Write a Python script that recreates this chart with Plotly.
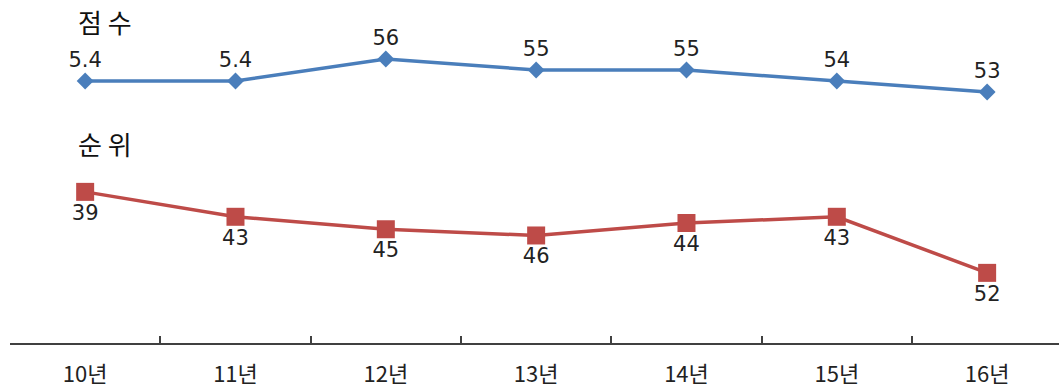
import plotly.graph_objects as go

years = ["10년", "11년", "12년", "13년", "14년", "15년", "16년"]
score = [54, 54, 56, 55, 55, 54, 53]
score_labels = ["5.4", "5.4", "56", "55", "55", "54", "53"]
rank = [39, 43, 45, 46, 44, 43, 52]
rank_labels = ["39", "43", "45", "46", "44", "43", "52"]

blue = "#4a7ebb"
red = "#be4b48"
txt_font = dict(family="DejaVu Sans, Noto Sans", size=21, color="#222")

fig = go.Figure()
fig.add_trace(go.Scatter(
    x=years, y=score, mode="lines+markers+text", text=score_labels,
    textposition="top center", textfont=txt_font,
    line=dict(color=blue, width=3.5),
    marker=dict(symbol="diamond", size=13, color=blue),
    yaxis="y", cliponaxis=False, showlegend=False,
))
fig.add_trace(go.Scatter(
    x=years, y=rank, mode="lines+markers+text", text=rank_labels,
    textposition="bottom center", textfont=txt_font,
    line=dict(color=red, width=3.5),
    marker=dict(symbol="square", size=18, color=red),
    yaxis="y2", cliponaxis=False, showlegend=False,
))

fig.update_layout(
    width=1059, height=391,
    margin=dict(l=10, r=0, t=0, b=48),
    paper_bgcolor="white", plot_bgcolor="white",
    xaxis=dict(
        type="category", range=[-0.5, 6.478],
        showline=True, linecolor="#404040", linewidth=2,
        ticks="inside", ticklen=7, tickcolor="#404040", tickwidth=1.5,
        tickson="boundaries", showgrid=False, zeroline=False,
        tickfont=dict(family="Noto Sans CJK KR", size=22, color="#222"),
        ticklabelstandoff=11,
    ),
    yaxis=dict(range=[30.18, 61.36], visible=False, showgrid=False),
    yaxis2=dict(range=[63.26, 8.2], visible=False, showgrid=False,
                overlaying="y"),
)

plot_w = 1059 - 10
plot_h = 391 - 48
anns = []
for text, px, py in [("점 수", 76, 22), ("순 위", 76, 143)]:
    anns.append(dict(
        text=text, x=(px - 10) / plot_w, y=1 - py / plot_h,
        xref="paper", yref="paper", xanchor="left", yanchor="middle",
        showarrow=False,
        font=dict(family="Noto Sans CJK KR", size=26, color="#111"),
    ))
fig.update_layout(annotations=anns)

fig.write_html("out.html")
